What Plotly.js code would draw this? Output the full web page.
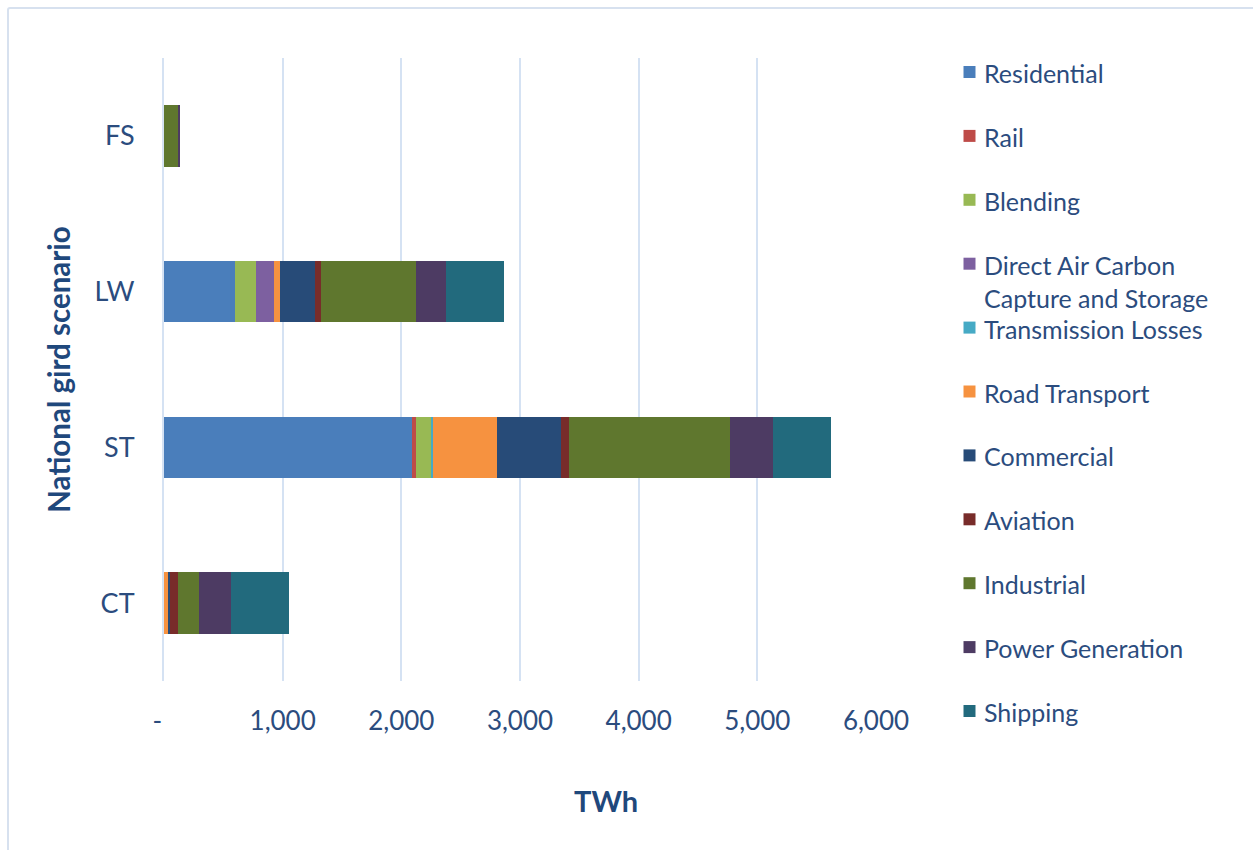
<!DOCTYPE html>
<html>
<head>
<meta charset="utf-8">
<script src="https://cdn.plot.ly/plotly-3.0.1.min.js"></script>
<style>
  html, body { margin: 0; padding: 0; background: #ffffff; }
  #wrap { position: relative; width: 1253px; height: 850px; overflow: hidden; }
  #chart { width: 1253px; height: 850px; }
  #frame {
    position: absolute; left: 7px; top: 7px; width: 1400px; height: 1000px;
    border: 2px solid #D7E1EF; border-radius: 3px; pointer-events: none;
  }
</style>
</head>
<body>
<div id="wrap">
  <div id="chart"></div>
  <div id="frame"></div>
</div>
<script>
// Scenarios (bottom to top) and energy demand per sector, TWh
const categories = ['CT', 'ST', 'LW', 'FS'];

const residential  = [0,   2094, 602, 0];
const rail         = [0,   30,   0,   0];
const blending     = [0,   128,  171, 0];
const daccs        = [0,   0,    154, 0];
const transmission = [0,   19,   0,   0];
const road         = [31,  532,  53,  0];
const commercial   = [22,  543,  289, 0];
const aviation     = [67,  68,   53,  0];
const industrial   = [171, 1359, 798, 120];
const powerGen     = [277, 362,  258, 11];
const shipping     = [485, 483,  485, 0];

const seriesNames = ['Residential', 'Rail', 'Blending', 'Direct Air Carbon Capture and Storage',
  'Transmission Losses', 'Road Transport', 'Commercial', 'Aviation', 'Industrial',
  'Power Generation', 'Shipping'];
const seriesValues = [residential, rail, blending, daccs, transmission, road,
  commercial, aviation, industrial, powerGen, shipping];
const seriesColors = ['#4A7EBB', '#BE4B48', '#98B954', '#7D60A0', '#46AAC5', '#F69240',
  '#274B78', '#782C2A', '#5F772E', '#4D3B63', '#226A7D'];

const xTickVals = [0, 1000, 2000, 3000, 4000, 5000, 6000];
const xTickText = ['-\u00a0\u00a0', '1,000', '2,000', '3,000', '4,000', '5,000', '6,000'];

const FONT = 'Lato, "Open Sans", sans-serif';
const TEXT = '#2B4C7E';
const GRID = '#D5E2F3';

const traces = seriesNames.map((name, i) => ({
  type: 'bar',
  orientation: 'h',
  name: name,
  y: categories,
  x: seriesValues[i],
  marker: { color: seriesColors[i], line: { width: 0 } },
  showlegend: false,
  hovertemplate: '%{y}: %{x:,.0f} TWh<extra>' + name + '</extra>'
}));

// plot area in page pixels
const W = 1253, H = 850;
const PL = 164, PR = 876, PT = 58, PB = 681;
const px = v => (v - PL) / (PR - PL);
const py = v => (PB - v) / (PB - PT);

// legend, one slot per sector
const legendTop = 72, legendStep = 63.9;
const legendShapes = [];
const legendNotes = [];
seriesNames.forEach((name, i) => {
  const cy = legendTop + i * legendStep;
  legendShapes.push({
    type: 'rect', xref: 'paper', yref: 'paper',
    x0: px(963.5), x1: px(975.5), y0: py(cy + 6), y1: py(cy - 6),
    fillcolor: seriesColors[i], line: { width: 0 }
  });
  const lines = name === 'Direct Air Carbon Capture and Storage'
    ? ['Direct Air Carbon', 'Capture and Storage'] : [name];
  lines.forEach((t, k) => {
    legendNotes.push({
      xref: 'paper', yref: 'paper', x: px(982), y: py(cy + 1 + k * 33),
      xanchor: 'left', yanchor: 'middle', showarrow: false, text: t,
      font: { family: FONT, size: 25, color: TEXT }
    });
  });
});

const layout = {
  width: W, height: H,
  margin: { l: PL, r: W - PR, t: PT, b: H - PB, pad: 0 },
  paper_bgcolor: '#ffffff',
  plot_bgcolor: '#ffffff',
  barmode: 'stack',
  bargap: 0.606,
  showlegend: false,
  font: { family: FONT, color: TEXT },
  xaxis: {
    range: [0, 6000],
    tickvals: xTickVals,
    ticktext: xTickText,
    showgrid: true, gridcolor: GRID, gridwidth: 2,
    zeroline: false, showline: false, ticks: '',
    ticklabelstandoff: 22,
    tickfont: { family: FONT, size: 26, color: TEXT },
    fixedrange: true
  },
  yaxis: {
    type: 'category',
    categoryorder: 'array', categoryarray: categories,
    showgrid: false, zeroline: false,
    showline: true, linecolor: GRID, linewidth: 2,
    ticks: '', ticklabelstandoff: 22,
    tickfont: { family: FONT, size: 27, color: TEXT },
    title: { text: 'National gird scenario', standoff: 15,
      font: { family: FONT, size: 29.5, color: '#1F487C', weight: 'bold' } },
    automargin: false,
    fixedrange: true
  },
  shapes: legendShapes,
  annotations: legendNotes.concat([{
    xref: 'paper', yref: 'paper', x: px(606), y: py(800),
    xanchor: 'center', yanchor: 'middle', showarrow: false,
    text: '<b>TWh</b>', font: { family: FONT, size: 29, color: '#1F487C' }
  }])
};

Plotly.newPlot('chart', traces, layout, { displayModeBar: false, staticPlot: false });
</script>
</body>
</html>
